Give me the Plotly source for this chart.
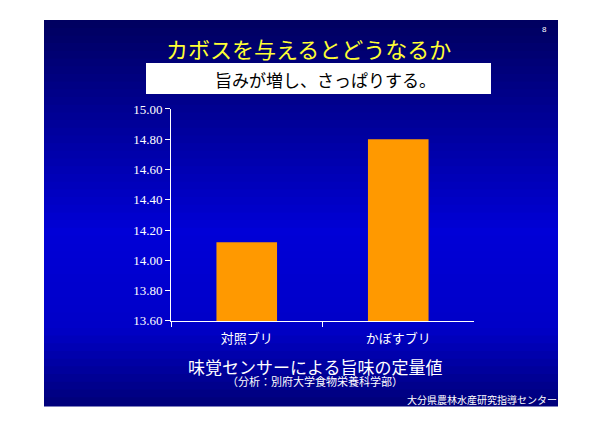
import plotly.graph_objects as go

categories = ["対照ブリ", "かぼすブリ"]
values = [14.12, 14.80]
y_ticks = [13.60, 13.80, 14.00, 14.20, 14.40, 14.60, 14.80, 15.00]

W, H = 600, 424
def px(x): return (x - 7) / W
def py(y): return 1 - ((y - 14) / 0.965) / H

fig = go.Figure(go.Bar(x=categories, y=values, marker_color="#ff9900", marker_line_width=0))

shapes = []
x0, x1, top, bot = px(43), px(557), py(19), py(404)
n = 50
def col(t):
    stops = [(0, (0, 0, 95)), (0.55, (0, 0, 215)), (0.8, (0, 0, 200)), (1, (0, 0, 120))]
    for i in range(len(stops)-1):
        a, ca = stops[i]; b, cb = stops[i+1]
        if a <= t <= b:
            f = (t-a)/(b-a)
            return "rgb(%d,%d,%d)" % tuple(int(ca[k]+(cb[k]-ca[k])*f) for k in range(3))
for i in range(n):
    ya = top - (top-bot)*i/n
    yb = top - (top-bot)*(i+1)/n
    c = col((i+0.5)/n)
    shapes.append(dict(type="rect", xref="paper", yref="paper", x0=x0, x1=x1, y0=yb - 0.004, y1=ya,
                       fillcolor=c, line=dict(width=0, color=c), layer="below"))
shapes.append(dict(type="rect", xref="paper", yref="paper", x0=px(145), x1=px(490), y0=py(93), y1=py(62),
                   fillcolor="white", line_width=0, layer="above"))

fig.update_layout(
    width=W, height=H, margin=dict(l=0, r=0, t=0, b=0),
    paper_bgcolor="white", plot_bgcolor="rgba(0,0,0,0)", showlegend=False,
    bargap=0.6, shapes=shapes,
    xaxis=dict(domain=[px(170), px(473)], showline=True, linecolor="white", linewidth=1,
               ticks="outside", tickson="boundaries", tickcolor="white", ticklen=5,
               ticklabelstandoff=6,
               tickfont=dict(family="Noto Sans CJK JP", size=13, color="white"), showgrid=False),
    yaxis=dict(domain=[py(320), py(108)], range=[13.6, 15.0], tickvals=y_ticks,
               ticktext=["%.2f" % v for v in y_ticks], showline=True, linecolor="white",
               ticks="outside", tickcolor="white", ticklen=5, showgrid=False, zeroline=False,
               tickfont=dict(family="Liberation Serif", size=13, color="white")),
    annotations=[
        dict(text="カボスを与えるとどうなるか", x=px(307), y=1-16/H, xref="paper", yref="paper",
             showarrow=False, font=dict(family="Noto Sans CJK JP", size=22, color="#ffff33")),
        dict(text="旨みが増し、さっぱりする。", x=px(324), y=1-52/H, xref="paper", yref="paper",
             showarrow=False, font=dict(family="Noto Sans CJK JP", size=17, color="black")),
        dict(text="8", x=px(548), y=1-8/H, xref="paper", yref="paper",
             showarrow=False, font=dict(family="Liberation Sans", size=8, color="white")),
        dict(text="味覚センサーによる旨味の定量値", x=px(314), y=1-379/H, xref="paper", yref="paper",
             showarrow=False, font=dict(family="Noto Sans CJK JP", size=17, color="white")),
        dict(text="（分析：別府大学食物栄養科学部）", x=px(314), y=1-390/H, xref="paper", yref="paper",
             showarrow=False, font=dict(family="Noto Sans CJK JP", size=11, color="white")),
        dict(text="大分県農林水産研究指導センター", x=px(558), y=1-408/H, xref="paper", yref="paper",
             xanchor="right", showarrow=False, font=dict(family="Noto Sans CJK JP", size=10, color="white")),
    ],
)
fig.write_html("out.html")
